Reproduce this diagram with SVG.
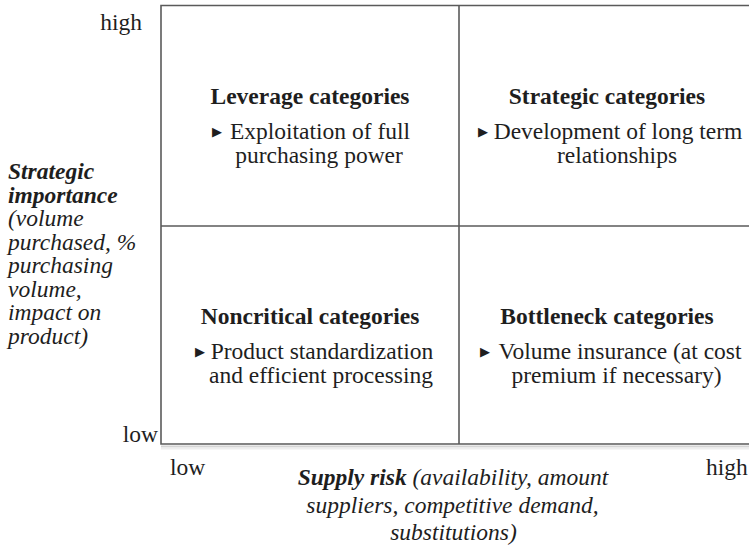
<svg xmlns="http://www.w3.org/2000/svg" width="749" height="546" viewBox="0 0 749 546">
<style>
text{font-family:"Liberation Serif","Times New Roman",serif;font-size:23.5px;fill:#1e1e1e}
.b{font-weight:bold}
.i{font-style:italic}
.m{text-anchor:middle}
.e{text-anchor:end}
.bul{font-family:"DejaVu Sans",sans-serif;font-size:13px}
.ln{stroke:#5a5a5a;stroke-width:1.6;fill:none}
</style>
<rect width="749" height="546" fill="#ffffff"/>
<g id="grid">
<line x1="161" y1="446.5" x2="749" y2="446.5" stroke="#d4d4d4" stroke-width="2"/>
<line x1="161" y1="448.5" x2="749" y2="448.5" stroke="#eeeeee" stroke-width="2"/>
<path class="ln" d="M760 5.5 H161 V444 H760"/>
<line class="ln" x1="459" y1="5.5" x2="459" y2="444"/>
<line class="ln" x1="161" y1="226" x2="760" y2="226"/>
</g>
<g id="leverage">
<text class="b m" x="310" y="104">Leverage categories</text>
<text class="bul" x="212" y="135.5">▶</text>
<text class="m" x="320" y="138.5">Exploitation of full</text>
<text class="m" x="319" y="163">purchasing power</text>
</g>
<g id="strategic">
<text class="b m" x="607" y="104">Strategic categories</text>
<text class="bul" x="478" y="135.5">▶</text>
<text class="m" x="618" y="138.5">Development of long term</text>
<text class="m" x="617" y="163">relationships</text>
</g>
<g id="noncritical">
<text class="b m" x="310" y="324">Noncritical categories</text>
<text class="bul" x="195" y="355.5">▶</text>
<text class="m" x="322" y="358.5">Product standardization</text>
<text class="m" x="321" y="382.5">and efficient processing</text>
</g>
<g id="bottleneck">
<text class="b m" x="607" y="324">Bottleneck categories</text>
<text class="bul" x="480" y="355.5">▶</text>
<text class="m" x="620" y="358.5">Volume insurance (at cost</text>
<text class="m" x="616.5" y="382.5">premium if necessary)</text>
</g>
<g id="y-axis">
<text class="e" x="142" y="30">high</text>
<text class="e" x="158" y="442">low</text>
<text class="b i" x="8" y="179">Strategic</text>
<text class="b i" x="8" y="202.5">importance</text>
<text class="i" x="8" y="226">(volume</text>
<text class="i" x="8" y="249.5">purchased, %</text>
<text class="i" x="8" y="273">purchasing</text>
<text class="i" x="8" y="296.5">volume,</text>
<text class="i" x="8" y="320">impact on</text>
<text class="i" x="8" y="343.5">product)</text>
</g>
<g id="x-axis">
<text x="170" y="475">low</text>
<text x="706" y="475">high</text>
<text class="m i" x="453" y="485"><tspan class="b">Supply risk</tspan> (availability, amount</text>
<text class="m i" x="452.5" y="513">suppliers, competitive demand,</text>
<text class="m i" x="453.5" y="540">substitutions)</text>
</g>
</svg>
